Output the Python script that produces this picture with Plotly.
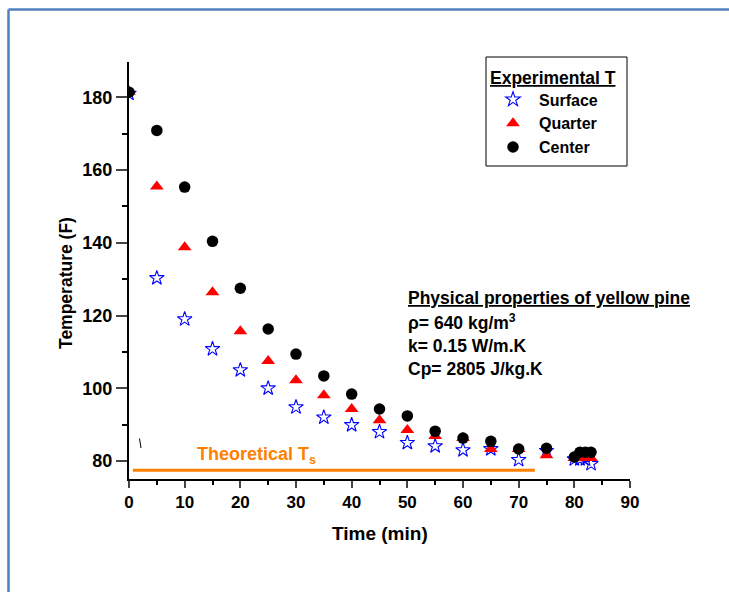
import plotly.graph_objects as go

time_center = [0, 5, 10, 15, 20, 25, 30, 35, 40, 45, 50, 55, 60, 65, 70, 75, 80, 81, 82, 83]
center = [181.4, 170.9, 155.3, 140.4, 127.5, 116.3, 109.4, 103.4, 98.4, 94.3, 92.4, 88.2, 86.3, 85.4, 83.3, 83.5, 81.1, 82.4, 82.4, 82.4]

time_quarter = [0, 5, 10, 15, 20, 25, 30, 35, 40, 45, 50, 55, 60, 65, 70, 75, 80, 81, 82, 83]
quarter = [181.5, 155.5, 138.8, 126.4, 115.7, 107.5, 102.2, 98.1, 94.3, 91.2, 88.5, 86.9, 86.3, 83.3, 83.3, 81.6, 80.8, 80.8, 80.8, 80.8]

time_surface = [0, 5, 10, 15, 20, 25, 30, 35, 40, 45, 50, 55, 60, 65, 70, 75, 80, 81, 82, 83]
surface = [181.0, 130.3, 119.0, 110.8, 105.0, 100.0, 94.8, 92.0, 89.9, 88.0, 85.0, 84.1, 83.0, 83.3, 80.3, 82.8, 80.5, 80.5, 80.5, 79.2]

theory_time = [0.7, 72.9]
theory_ts = [77.45, 77.45]

x_ticks = [0, 10, 20, 30, 40, 50, 60, 70, 80, 90]
y_ticks = [80, 100, 120, 140, 160, 180]

FONT = "Arial, Liberation Sans, sans-serif"

fig = go.Figure()

fig.add_trace(go.Scatter(
    x=theory_time, y=theory_ts, mode="lines",
    line=dict(color="#FF7F00", width=3), showlegend=False, hoverinfo="skip"))

fig.add_trace(go.Scatter(
    x=time_surface, y=surface, mode="markers", name="Surface",
    marker=dict(symbol="star-open", size=11, color="blue", line=dict(width=1.1, color="blue"))))
fig.add_trace(go.Scatter(
    x=time_quarter, y=quarter, mode="markers", name="Quarter",
    marker=dict(symbol="triangle-up", size=12, color="red", line=dict(width=0))))
fig.add_trace(go.Scatter(
    x=time_center, y=center, mode="markers", name="Center",
    marker=dict(symbol="circle", size=11.5, color="black", line=dict(width=0))))

# plot area in pixels
L, R, T, B = 129, 630, 62, 479
W, H = 729, 592

def px(xp):
    return (xp - L) / (R - L)

def py(yp):
    return (B - yp) / (B - T)

fig.update_layout(
    width=W, height=H,
    margin=dict(l=L, r=W - R, t=T, b=H - B),
    paper_bgcolor="white", plot_bgcolor="white",
    font=dict(family=FONT, color="black"),
    showlegend=True,
    legend=dict(
        font=dict(size=16, family=FONT, weight="bold"),
        x=px(487), y=py(82.5), xanchor="left", yanchor="top",
        borderwidth=0, bgcolor="rgba(0,0,0,0)",
        tracegroupgap=0, itemwidth=42,
    ),
    xaxis=dict(
        range=[0, 90], tickvals=x_ticks, ticks="outside", ticklen=7, tickwidth=2,
        showline=True, linecolor="black", linewidth=2, showgrid=False, zeroline=False,
        minor=dict(ticks="outside", ticklen=4, tickwidth=2, dtick=5, tickcolor="black"),
        tickfont=dict(size=17, family=FONT, weight="bold"),
    ),
    yaxis=dict(
        range=[75.05, 189.7], tickvals=y_ticks, ticks="outside", ticklen=11, tickwidth=2,
        showline=True, linecolor="black", linewidth=2, showgrid=False, zeroline=False,
        minor=dict(ticks="outside", ticklen=5, tickwidth=2, dtick=10, tickcolor="black"),
        tickfont=dict(size=18, family=FONT, weight="bold"),
    ),
)

# axis titles
fig.add_annotation(xref="paper", yref="paper", x=px(380), y=py(533), xanchor="center", yanchor="middle",
                   text="<b>Time (min)</b>", showarrow=False, font=dict(size=19, family=FONT, color="black"))
fig.add_annotation(xref="paper", yref="paper", x=px(66), y=py(283), xanchor="center", yanchor="middle",
                   text="<b>Temperature (F)</b>", textangle=-90, showarrow=False,
                   font=dict(size=17.5, family=FONT, color="black"))

# legend frame and title
fig.add_shape(type="rect", xref="paper", yref="paper", x0=px(486), x1=px(627), y0=py(166), y1=py(57),
              line=dict(color="black", width=1), fillcolor="rgba(0,0,0,0)")
fig.add_annotation(xref="paper", yref="paper", x=px(488), y=py(78), xanchor="left", yanchor="middle",
                   text="<b><u>Experimental T</u></b>", showarrow=False,
                   font=dict(size=17.5, family=FONT, color="black"))

# blue page frame
frame_col = "#4F81BD"
fig.add_shape(type="line", xref="paper", yref="paper", x0=px(8.5), x1=px(8.5), y0=py(9.5), y1=py(600),
              line=dict(color=frame_col, width=2.5))
fig.add_shape(type="line", xref="paper", yref="paper", x0=px(8.5), x1=px(740), y0=py(9.5), y1=py(9.5),
              line=dict(color=frame_col, width=2.5))

# small mark near origin
fig.add_shape(type="line", xref="paper", yref="paper", x0=px(139.5), x1=px(141), y0=py(438.5), y1=py(448),
              line=dict(color="black", width=1))

fig.add_annotation(xref="paper", yref="paper", x=px(195), y=py(455), xanchor="left", yanchor="middle",
                   text="<b>Theoretical T<sub>s</sub></b>", showarrow=False,
                   font=dict(size=18, color="#FF7F00", family=FONT))

props = [
    ("<b><u>Physical properties of yellow pine</u></b>", 298),
    ("<b>ρ= 640 kg/m<sup>3</sup></b>", 322),
    ("<b>k= 0.15 W/m.K</b>", 346),
    ("<b>Cp= 2805 J/kg.K</b>", 369),
]
for txt, yy in props:
    fig.add_annotation(xref="paper", yref="paper", x=px(406), y=py(yy), xanchor="left", yanchor="middle",
                       text=txt, showarrow=False, font=dict(size=17.5, color="black", family=FONT))

fig.write_html("out.html")
